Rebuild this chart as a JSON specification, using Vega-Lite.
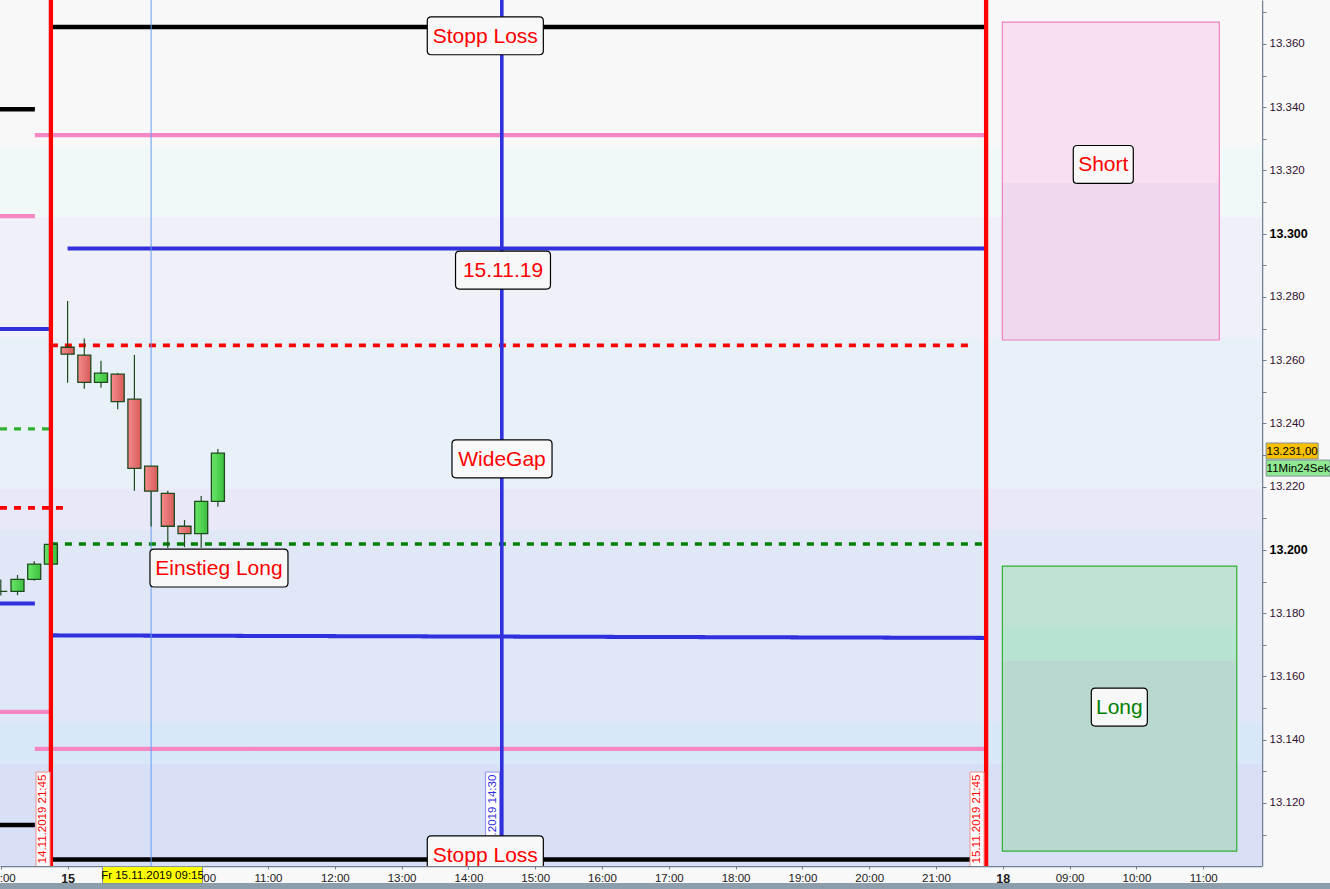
{
  "$schema": "https://vega.github.io/schema/vega-lite/v6.json",
  "width": 1262,
  "height": 866,
  "autosize": "none",
  "padding": {"left": 0, "top": 0, "right": 68, "bottom": 23},
  "background": "#f8f8f8",
  "config": {
    "view": {"stroke": null},
    "text": {"font": "Liberation Sans"},
    "axis": {"labelFont": "Liberation Sans"}
  },
  "datasets": {
    "bands": [
      {"band": 1, "lo": 13327.7, "hi": 13373.91},
      {"band": 2, "lo": 13305.2, "hi": 13327.7},
      {"band": 3, "lo": 13267.0, "hi": 13305.2},
      {"band": 4, "lo": 13219.4, "hi": 13267.0},
      {"band": 5, "lo": 13206.3, "hi": 13219.4},
      {"band": 6, "lo": 13145.6, "hi": 13206.3},
      {"band": 7, "lo": 13132.3, "hi": 13145.6},
      {"band": 8, "lo": 13100.07, "hi": 13132.3}
    ],
    "zones": [
      {"seg": "short_a", "t1": 13.993, "t2": 17.241, "p1": 13366.9, "p2": 13316.1},
      {"seg": "short_b", "t1": 13.993, "t2": 17.241, "p1": 13316.1, "p2": 13266.4},
      {"seg": "long_a", "t1": 13.993, "t2": 17.502, "p1": 13194.9, "p2": 13176.0},
      {"seg": "long_b", "t1": 13.993, "t2": 17.502, "p1": 13176.0, "p2": 13164.9},
      {"seg": "long_c", "t1": 13.993, "t2": 17.502, "p1": 13164.9, "p2": 13104.8},
      {"seg": "strip", "t1": -1.012, "t2": 18.9, "p1": 13094.7, "p2": 13092.0}
    ],
    "outlines": [
      {"zone": "Short", "t1": 13.993, "t2": 17.241, "p1": 13366.9, "p2": 13266.4},
      {"zone": "Long", "t1": 13.993, "t2": 17.502, "p1": 13194.9, "p2": 13104.8}
    ],
    "hlines": [
      {"kind": "stop", "t1": -0.25, "t2": 13.75, "p1": 13365.4, "p2": 13365.4},
      {"kind": "stop", "t1": -0.25, "t2": 13.75, "p1": 13102.1, "p2": 13102.1},
      {"kind": "stop", "t1": -1.012, "t2": -0.49, "p1": 13339.4, "p2": 13339.4},
      {"kind": "stop", "t1": -1.012, "t2": -0.49, "p1": 13113.0, "p2": 13113.0},
      {"kind": "pink", "t1": -0.49, "t2": 13.75, "p1": 13331.2, "p2": 13331.2},
      {"kind": "pink", "t1": -0.49, "t2": 13.75, "p1": 13137.1, "p2": 13137.1},
      {"kind": "pink", "t1": -1.012, "t2": -0.49, "p1": 13305.6, "p2": 13305.6},
      {"kind": "pink", "t1": -1.012, "t2": -0.26, "p1": 13148.8, "p2": 13148.8},
      {"kind": "blue", "t1": 0.0, "t2": 13.75, "p1": 13295.3, "p2": 13295.3},
      {"kind": "blue", "t1": -0.25, "t2": 13.75, "p1": 13173.0, "p2": 13172.2},
      {"kind": "blue", "t1": -1.012, "t2": -0.26, "p1": 13269.9, "p2": 13269.9},
      {"kind": "blue", "t1": -1.012, "t2": -0.49, "p1": 13183.1, "p2": 13183.1},
      {"kind": "reddash", "t1": -0.25, "t2": 13.5, "p1": 13264.7, "p2": 13264.7},
      {"kind": "reddash", "t1": -1.012, "t2": -0.04, "p1": 13213.3, "p2": 13213.3},
      {"kind": "greendash", "t1": -0.25, "t2": 13.75, "p1": 13201.9, "p2": 13201.9},
      {"kind": "greenlight", "t1": -1.012, "t2": -0.25, "p1": 13238.3, "p2": 13238.3}
    ],
    "vlines": [
      {"kind": "cross", "t": 1.25},
      {"kind": "red", "t": -0.25},
      {"kind": "blue", "t": 6.5},
      {"kind": "red", "t": 13.75}
    ],
    "candles": [
      {"t": -1.0, "open": 13186.9, "high": 13190.7, "low": 13185.6, "close": 13186.9},
      {"t": -0.75, "open": 13186.9, "high": 13192.1, "low": 13185.7, "close": 13190.7},
      {"t": -0.5, "open": 13190.7, "high": 13196.4, "low": 13190.3, "close": 13195.5},
      {"t": -0.25, "open": 13195.5, "high": 13201.8, "low": 13195.5, "close": 13201.8},
      {"t": 0.0, "open": 13264.1, "high": 13278.7, "low": 13252.9, "close": 13261.9},
      {"t": 0.25, "open": 13261.6, "high": 13266.9, "low": 13251.0, "close": 13253.0},
      {"t": 0.5, "open": 13253.0, "high": 13259.8, "low": 13251.3, "close": 13255.9},
      {"t": 0.75, "open": 13255.6, "high": 13256.0, "low": 13244.5, "close": 13246.9},
      {"t": 1.0, "open": 13247.7, "high": 13261.7, "low": 13218.7, "close": 13225.8},
      {"t": 1.25, "open": 13226.5, "high": 13226.5, "low": 13207.4, "close": 13218.6},
      {"t": 1.5, "open": 13217.9, "high": 13218.7, "low": 13200.6, "close": 13207.5},
      {"t": 1.75, "open": 13207.5, "high": 13209.5, "low": 13200.9, "close": 13205.2},
      {"t": 2.0, "open": 13205.2, "high": 13217.1, "low": 13200.7, "close": 13215.4},
      {"t": 2.25, "open": 13215.4, "high": 13231.9, "low": 13213.7, "close": 13230.6}
    ],
    "vlabels": [
      {"text": "14.11.2019 21:45", "tone": "red", "t": -0.368, "pbox": 13114.6, "ptext": 13100.9},
      {"text": "15.11.2019 14:30", "tone": "blue", "t": 6.361, "pbox": 13114.6, "ptext": 13100.9},
      {"text": "15.11.2019 21:45", "tone": "red", "t": 13.614, "pbox": 13114.6, "ptext": 13100.9}
    ],
    "notes": [
      {"label": "Stopp Loss", "t": 6.253, "p": 13362.6},
      {"label": "Stopp Loss", "t": 6.253, "p": 13103.6},
      {"label": "15.11.19", "t": 6.518, "p": 13288.5},
      {"label": "WideGap", "t": 6.503, "p": 13228.8},
      {"label": "Einstieg Long", "t": 2.266, "p": 13194.3},
      {"label": "Short", "t": 15.504, "p": 13321.9},
      {"label": "Long", "t": 15.744, "p": 13150.3}
    ],
    "tags": [
      {"tag": "date", "text": "Fr 15.11.2019 09:15", "t": 1.271, "p": 13097.2},
      {"tag": "price", "text": "13.231,00", "t": 18.331, "p": 13231.3},
      {"tag": "timer", "text": "11Min24Sek", "t": 18.421, "p": 13225.9}
    ]
  },
  "layer": [
    {
      "data": {"name": "bands"},
      "mark": {"type": "rect"},
      "encoding": {
        "y": {
          "field": "lo",
          "type": "quantitative",
          "scale": {"domain": [13100.07, 13373.91], "nice": false, "zero": false, "padding": 0},
          "axis": {
            "orient": "right",
            "title": null,
            "grid": false,
            "values": [13120, 13140, 13160, 13180, 13200, 13220, 13240, 13260, 13280, 13300, 13320, 13340, 13360],
            "labelExpr": "replace(format(datum.value, ',.0f'), ',', '.')",
            "labelFontWeight": {"condition": {"test": "datum.value % 100 == 0", "value": "bold"}, "value": "normal"},
            "labelFontSize": {"condition": {"test": "datum.value % 100 == 0", "value": 12.5}, "value": 11.5},
            "labelColor": {"condition": {"test": "datum.value % 100 == 0", "value": "#000000"}, "value": "#301030"},
            "labelFlush": false,
            "labelOverlap": false,
            "labelPadding": 3,
            "tickSize": 4,
            "tickColor": "#708090",
            "domainColor": "#708090",
            "domainWidth": 1.5
          }
        },
        "y2": {"field": "hi"},
        "fill": {
          "field": "band",
          "type": "ordinal",
          "scale": {"domain": [1, 2, 3, 4, 5, 6, 7, 8], "range": ["#f8f8f8", "#f0f8f8", "#f0f0f8", "#e8f0f8", "#e8e8f8", "#e0e8f8", "#d8e8f8", "#d8e0f8"]},
          "legend": null
        }
      }
    },
    {
      "data": {"name": "zones"},
      "mark": {"type": "rect"},
      "encoding": {
        "x": {
          "field": "t1",
          "type": "quantitative",
          "scale": {"domain": [-1.012, 17.88], "nice": false, "zero": false, "padding": 0},
          "axis": {
            "title": null,
            "grid": false,
            "values": [-1, 0, 1, 2, 3, 4, 5, 6, 7, 8, 9, 10, 11, 12, 13, 14, 15, 16, 17],
            "labelExpr": "datum.value == 0 ? '15' : datum.value == 14 ? '18' : datum.value == 1 ? '' : datum.value < 0 ? '21:00' : datum.value < 14 ? (datum.value + 8) + ':00' : datum.value == 15 ? '09:00' : (datum.value - 6) + ':00'",
            "labelFontWeight": {"condition": {"test": "datum.value == 0 || datum.value == 14", "value": "bold"}, "value": "normal"},
            "labelFontSize": {"condition": {"test": "datum.value == 0 || datum.value == 14", "value": 12.5}, "value": 11.5},
            "labelColor": "#202020",
            "labelFlush": false,
            "labelOverlap": false,
            "labelPadding": 3,
            "tickSize": 3,
            "tickColor": "#708090",
            "domainColor": "#708090",
            "domainWidth": 1.5
          }
        },
        "x2": {"field": "t2"},
        "y": {
          "field": "p1",
          "type": "quantitative",
          "axis": {
            "orient": "right",
            "title": null,
            "grid": false,
            "values": [13110, 13130, 13150, 13170, 13190, 13210, 13230, 13250, 13270, 13290, 13310, 13330, 13350, 13370],
            "labels": false,
            "domain": false,
            "tickSize": 4,
            "tickColor": "#708090"
          }
        },
        "y2": {"field": "p2"},
        "fill": {
          "field": "seg",
          "type": "nominal",
          "scale": {"domain": ["short_a", "short_b", "long_a", "long_b", "long_c", "strip"], "range": ["#f8e0f0", "#f0d8ee", "#c0e2d2", "#b8e2d2", "#b8d8d0", "#8c9eac"]},
          "legend": null
        }
      }
    },
    {
      "data": {"name": "outlines"},
      "mark": {"type": "rect", "fillOpacity": 0, "strokeWidth": 1.2},
      "encoding": {
        "x": {"field": "t1", "type": "quantitative", "title": null},
        "x2": {"field": "t2"},
        "y": {"field": "p1", "type": "quantitative", "axis": null},
        "y2": {"field": "p2"},
        "stroke": {"condition": {"test": "datum.zone == 'Short'", "value": "#f080c0"}, "value": "#30b030"}
      }
    },
    {
      "data": {"name": "hlines"},
      "mark": {"type": "rule"},
      "encoding": {
        "x": {"field": "t1", "type": "quantitative", "title": null},
        "x2": {"field": "t2"},
        "y": {"field": "p1", "type": "quantitative", "axis": null},
        "y2": {"field": "p2"},
        "color": {
          "field": "kind",
          "type": "nominal",
          "scale": {"domain": ["stop", "pink", "blue", "reddash", "greendash", "greenlight"], "range": ["#000000", "#f488c4", "#3030dc", "#ff0000", "#008000", "#30b030"]},
          "legend": null
        },
        "strokeDash": {
          "field": "kind",
          "type": "nominal",
          "scale": {"domain": ["stop", "pink", "blue", "reddash", "greendash", "greenlight"], "range": [[1, 0], [1, 0], [1, 0], [7, 7], [7, 7], [7, 7]]},
          "legend": null
        },
        "strokeWidth": {
          "field": "kind",
          "type": "ordinal",
          "scale": {"domain": ["stop", "pink", "blue", "reddash", "greendash", "greenlight"], "range": [4.5, 3.3, 4, 4, 4, 4]},
          "legend": null
        }
      }
    },
    {
      "data": {"name": "vlines"},
      "transform": [{"filter": "datum.kind == 'cross'"}],
      "mark": {"type": "rule", "color": "#6a9af0", "strokeWidth": 1},
      "encoding": {
        "x": {"field": "t", "type": "quantitative", "title": null}
      }
    },
    {
      "data": {"name": "candles"},
      "mark": {"type": "rule", "color": "#1e4a1e", "strokeWidth": 1.2},
      "encoding": {
        "x": {"field": "t", "type": "quantitative", "title": null},
        "y": {"field": "low", "type": "quantitative", "axis": null},
        "y2": {"field": "high"}
      }
    },
    {
      "data": {"name": "candles"},
      "transform": [{"filter": "datum.close < datum.open"}],
      "mark": {
        "type": "bar",
        "width": 13,
        "stroke": "#1e4a1e",
        "strokeWidth": 1.3,
        "fill": {"gradient": "linear", "x1": 0, "y1": 0, "x2": 1, "y2": 0, "stops": [{"offset": 0, "color": "#f48c8c"}, {"offset": 1, "color": "#d85a5a"}]}
      },
      "encoding": {
        "x": {"field": "t", "type": "quantitative", "title": null},
        "y": {"field": "open", "type": "quantitative", "axis": null},
        "y2": {"field": "close"}
      }
    },
    {
      "data": {"name": "candles"},
      "transform": [{"filter": "datum.close >= datum.open"}],
      "mark": {
        "type": "bar",
        "width": 13,
        "stroke": "#1e4a1e",
        "strokeWidth": 1.3,
        "fill": {"gradient": "linear", "x1": 0, "y1": 0, "x2": 1, "y2": 0, "stops": [{"offset": 0, "color": "#6ae66a"}, {"offset": 1, "color": "#3cc03c"}]}
      },
      "encoding": {
        "x": {"field": "t", "type": "quantitative", "title": null},
        "y": {"field": "open", "type": "quantitative", "axis": null},
        "y2": {"field": "close"}
      }
    },
    {
      "data": {"name": "vlines"},
      "transform": [{"filter": "datum.kind != 'cross'"}],
      "mark": {"type": "rule"},
      "encoding": {
        "x": {"field": "t", "type": "quantitative", "title": null},
        "color": {"condition": {"test": "datum.kind == 'blue'", "value": "#3030dc"}, "value": "#ff0000"},
        "strokeWidth": {"condition": {"test": "datum.kind == 'blue'", "value": 3.6}, "value": 4.3}
      }
    },
    {
      "data": {"name": "vlabels"},
      "mark": {"type": "point", "filled": true, "opacity": 1, "fill": "#fcfcfc", "strokeWidth": 1, "size": 10000, "shape": "M-0.14,-0.96H0.14V0.96H-0.14Z", "clip": true},
      "encoding": {
        "x": {"field": "t", "type": "quantitative", "title": null},
        "y": {"field": "pbox", "type": "quantitative", "axis": null},
        "stroke": {"condition": {"test": "datum.tone == 'blue'", "value": "#9090f0"}, "value": "#f09090"}
      }
    },
    {
      "data": {"name": "vlabels"},
      "mark": {"type": "text", "angle": 270, "align": "left", "baseline": "middle", "fontSize": 11.5},
      "encoding": {
        "x": {"field": "t", "type": "quantitative", "title": null},
        "y": {"field": "ptext", "type": "quantitative", "axis": null},
        "text": {"field": "text"},
        "color": {"condition": {"test": "datum.tone == 'blue'", "value": "#3030dc"}, "value": "#ff0000"}
      }
    },
    {
      "data": {"name": "notes"},
      "mark": {"type": "point", "filled": true, "opacity": 1, "fill": "#f8f8f8", "stroke": "#000000", "strokeWidth": 1.2, "size": 19044, "clip": true},
      "encoding": {
        "x": {"field": "t", "type": "quantitative", "title": null},
        "y": {"field": "p", "type": "quantitative", "axis": null},
        "shape": {
          "field": "label",
          "type": "nominal",
          "scale": {
            "domain": ["Stopp Loss", "15.11.19", "WideGap", "Einstieg Long", "Short", "Long"],
            "range": [
              "M-0.783,-0.275H0.783Q0.841,-0.275 0.841,-0.217V0.217Q0.841,0.275 0.783,0.275H-0.783Q-0.841,0.275 -0.841,0.217V-0.217Q-0.841,-0.275 -0.783,-0.275Z",
              "M-0.630,-0.275H0.630Q0.688,-0.275 0.688,-0.217V0.217Q0.688,0.275 0.630,0.275H-0.630Q-0.688,0.275 -0.688,0.217V-0.217Q-0.688,-0.275 -0.630,-0.275Z",
              "M-0.667,-0.275H0.667Q0.725,-0.275 0.725,-0.217V0.217Q0.725,0.275 0.667,0.275H-0.667Q-0.725,0.275 -0.725,0.217V-0.217Q-0.725,-0.275 -0.667,-0.275Z",
              "M-0.942,-0.275H0.942Q1,-0.275 1,-0.217V0.217Q1,0.275 0.942,0.275H-0.942Q-1,0.275 -1,0.217V-0.217Q-1,-0.275 -0.942,-0.275Z",
              "M-0.377,-0.275H0.377Q0.435,-0.275 0.435,-0.217V0.217Q0.435,0.275 0.377,0.275H-0.377Q-0.435,0.275 -0.435,0.217V-0.217Q-0.435,-0.275 -0.377,-0.275Z",
              "M-0.348,-0.275H0.348Q0.406,-0.275 0.406,-0.217V0.217Q0.406,0.275 0.348,0.275H-0.348Q-0.406,0.275 -0.406,0.217V-0.217Q-0.406,-0.275 -0.348,-0.275Z"
            ]
          },
          "legend": null
        }
      }
    },
    {
      "data": {"name": "notes"},
      "mark": {"type": "text", "fontSize": 21, "baseline": "middle", "dy": 1, "clip": true},
      "encoding": {
        "x": {"field": "t", "type": "quantitative", "title": null},
        "y": {"field": "p", "type": "quantitative", "axis": null},
        "text": {"field": "label"},
        "color": {"condition": {"test": "datum.label == 'Long'", "value": "#008000"}, "value": "#ff0000"}
      }
    },
    {
      "data": {"name": "tags"},
      "mark": {"type": "point", "filled": true, "opacity": 1, "stroke": "#8090a0", "strokeWidth": 1, "size": 10000},
      "encoding": {
        "x": {"field": "t", "type": "quantitative", "title": null},
        "y": {"field": "p", "type": "quantitative", "axis": null},
        "shape": {
          "field": "tag",
          "type": "nominal",
          "scale": {"domain": ["date", "price", "timer"], "range": ["M-1,-0.17H1V0.17H-1Z", "M-0.52,-0.16H0.52V0.16H-0.52Z", "M-0.64,-0.16H0.64V0.16H-0.64Z"]},
          "legend": null
        },
        "fill": {
          "field": "tag",
          "type": "nominal",
          "scale": {"domain": ["date", "price", "timer"], "range": ["#ffff00", "#f8c000", "#90e890"]},
          "legend": null
        }
      }
    },
    {
      "data": {"name": "tags"},
      "mark": {"type": "text", "fontSize": 11.5, "baseline": "middle", "color": "#000000", "dy": 1},
      "encoding": {
        "x": {"field": "t", "type": "quantitative", "title": null},
        "y": {"field": "p", "type": "quantitative", "axis": null},
        "text": {"field": "text"}
      }
    }
  ],
  "resolve": {
    "axis": {"y": "independent"},
    "scale": {
      "color": "independent",
      "fill": "independent",
      "stroke": "independent",
      "shape": "independent",
      "strokeDash": "independent",
      "strokeWidth": "independent"
    }
  }
}
